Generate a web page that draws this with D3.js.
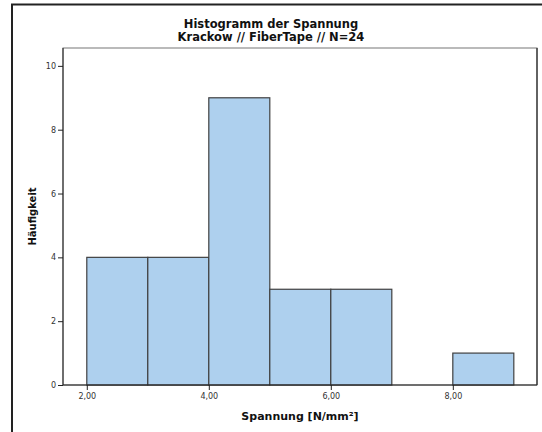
<!DOCTYPE html>
<html><head><meta charset="utf-8">
<script src="https://cdn.jsdelivr.net/npm/d3@7"></script>
<style>body{margin:0;background:#fff}svg{display:block}</style>
</head><body>
<script>
const binStarts = [2, 3, 4, 5, 6, 7, 8];
const binEnds   = [3, 4, 5, 6, 7, 8, 9];
const counts    = [4, 4, 9, 3, 3, 0, 1];
const xTicks = [2, 4, 6, 8];
const yTicks = [0, 2, 4, 6, 8, 10];
const titleLines = ["Histogramm der Spannung", "Krackow // FiberTape // N=24"];
const xLabel = "Spannung [N/mm²]";
const yLabel = "Häufigkeit";

const W = 542, H = 432;
const svg = d3.select("body").append("svg").attr("width", W).attr("height", H);
const font = "DejaVu Sans, sans-serif";

// outer frame
svg.append("rect").attr("x", 12).attr("y", 4.5).attr("width", 540).attr("height", 440)
  .attr("fill", "none").attr("stroke", "#222").attr("stroke-width", 2);

const L = 63, R = 537, T = 48, B = 385;
const x = d3.scaleLinear().domain([1.61, 9.38]).range([L, R]);
const y = d3.scaleLinear().domain([0, 10.56]).range([B, T]);

// plot border
svg.append("rect").attr("x", L).attr("y", T).attr("width", R - L).attr("height", B - T)
  .attr("fill", "none").attr("stroke", "#777").attr("stroke-width", 1);
svg.append("line").attr("x1", R).attr("x2", R).attr("y1", T).attr("y2", B)
  .attr("stroke", "#444").attr("stroke-width", 1.5);

// bars
const data = counts.map((c, i) => ({x0: binStarts[i], x1: binEnds[i], c}));
svg.append("g").selectAll("rect").data(data.filter(d => d.c > 0)).join("rect")
  .attr("x", d => x(d.x0)).attr("y", d => y(d.c))
  .attr("width", d => x(d.x1) - x(d.x0)).attr("height", d => y(0) - y(d.c))
  .attr("fill", "#aed0ee").attr("stroke", "#404040").attr("stroke-width", 1.2);

// axes
const xAxis = d3.axisBottom(x).tickValues(xTicks).tickSize(5).tickPadding(3)
  .tickFormat(d => d3.format(".2f")(d).replace(".", ","));
const gx = svg.append("g").attr("transform", `translate(0,${B})`).call(xAxis);
gx.select(".domain").attr("d", `M${L},0H${R}`).attr("stroke", "#222");
gx.selectAll(".tick line").attr("stroke", "#222");
gx.selectAll("text").attr("font-family", font).attr("font-size", 8).attr("fill", "#333");

const yAxis = d3.axisLeft(y).tickValues(yTicks).tickSize(5).tickPadding(2);
const gy = svg.append("g").attr("transform", `translate(${L},0)`).call(yAxis);
gy.select(".domain").attr("d", `M0,${T}V${B}`).attr("stroke", "#222");
gy.selectAll(".tick line").attr("stroke", "#222");
gy.selectAll("text").attr("font-family", font).attr("font-size", 8).attr("fill", "#333");

// titles
svg.selectAll("text.title").data(titleLines).join("text").attr("class", "title")
  .attr("x", (L + R) / 2 - 29).attr("y", (d, i) => 28 + i * 12.5)
  .attr("text-anchor", "middle").attr("font-family", font).attr("font-weight", "bold")
  .attr("font-size", 11.5).attr("fill", "#111").text(d => d);

svg.append("text").attr("x", (L + R) / 2).attr("y", 420).attr("text-anchor", "middle")
  .attr("font-family", font).attr("font-weight", "bold").attr("font-size", 11)
  .attr("fill", "#111").text(xLabel);

svg.append("text").attr("transform", `translate(36,${(T + B) / 2}) rotate(-90)`)
  .attr("text-anchor", "middle").attr("font-family", font).attr("font-weight", "bold")
  .attr("font-size", 10).attr("fill", "#111").text(yLabel);
</script>
</body></html>
